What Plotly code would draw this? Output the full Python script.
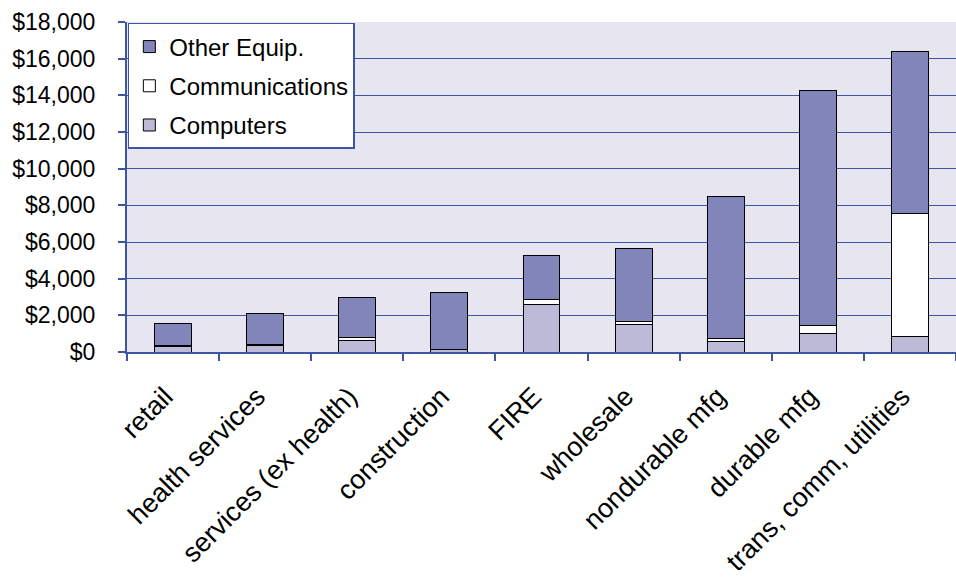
import plotly.graph_objects as go

categories = ["retail", "health services", "services (ex health)", "construction",
              "FIRE", "wholesale", "nondurable mfg", "durable mfg",
              "trans, comm, utilities"]
computers = [290, 340, 650, 110, 2600, 1480, 580, 1020, 870]
communications = [60, 60, 150, 40, 275, 160, 160, 415, 6700]
other_equip = [1230, 1700, 2150, 3100, 2400, 3990, 7760, 12805, 8800]

FONT = "Liberation Sans, Arial, sans-serif"
GRID = "#3E55A5"

fig = go.Figure()
fig.add_bar(x=categories, y=computers, name="Computers", legendrank=3, legendgroup="c",
            marker=dict(color="#BDBAD8", line=dict(color="#000000", width=1)))
fig.add_bar(x=categories, y=communications, name="Communications", legendrank=2, legendgroup="m",
            marker=dict(color="#FFFFFF", line=dict(color="#000000", width=1)))
fig.add_bar(x=categories, y=other_equip, name="Other Equip.", legendrank=1, legendgroup="o",
            marker=dict(color="#8185BA", line=dict(color="#000000", width=1)))

fig.update_layout(
    width=956, height=579,
    barmode="stack", bargap=0.6,
    paper_bgcolor="white", plot_bgcolor="#E6E5F0",
    margin=dict(l=127, r=0, t=22, b=227),
    font=dict(family=FONT, size=23, color="black"),
    legend=dict(x=0.001, y=0.997, xanchor="left", yanchor="top",
                bgcolor="white", bordercolor="#3E55A5", borderwidth=1.5,
                traceorder="grouped", tracegroupgap=5, itemwidth=30,
                font=dict(size=24)),
    showlegend=True,
)
fig.update_xaxes(showline=True, linecolor=GRID, linewidth=2,
                 ticks="outside", tickson="boundaries", ticklen=7, tickcolor=GRID,
                 tickwidth=2, tickangle=-45, tickfont=dict(size=27),
                 ticklabelstandoff=16, ticklabelshift=-8)
fig.update_yaxes(range=[0, 18000], dtick=2000, tickprefix="$", tickformat=",",
                 showline=True, linecolor=GRID, linewidth=2,
                 ticks="outside", ticklen=7, tickcolor=GRID, tickwidth=2,
                 showgrid=True, gridcolor=GRID, gridwidth=1,
                 ticklabelstandoff=18, tickfont=dict(size=23), zeroline=False)

fig.write_html("out.html")
